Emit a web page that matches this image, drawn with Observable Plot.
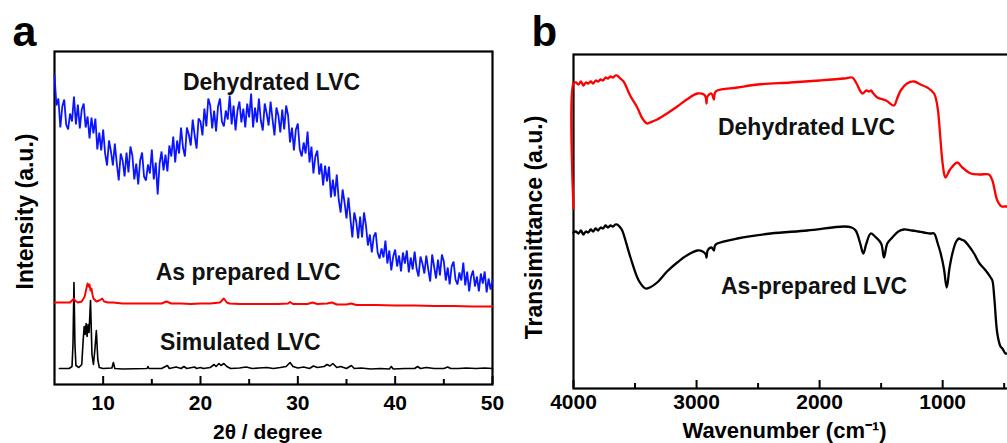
<!DOCTYPE html>
<html>
<head>
<meta charset="utf-8">
<script src="https://cdn.jsdelivr.net/npm/d3@7"></script>
<script src="https://cdn.jsdelivr.net/npm/@observablehq/plot@0.6"></script>
<style>
  html, body { margin: 0; padding: 0; background: #fff; overflow: hidden; }
  #wrap { position: relative; width: 1007px; height: 443px; overflow: hidden; }
  #pa, #pb { position: absolute; top: 0; }
  #pa { left: 0; width: 500px; z-index: 2; }
  #pb { left: 500px; width: 526px; z-index: 1; }
  svg { overflow: visible; max-width: none !important; }
</style>
</head>
<body>
<div id="wrap"><div id="pb"></div><div id="pa"></div></div>
<script>
// ---------- Panel a: XRD (2θ in degrees, intensity in a.u.) ----------
const xrdMajorTicks = [10, 20, 30, 40, 50];
const xrdMinorTicks = [15, 25, 35, 45];

const dehydrated = [
[5.0,309],[5.2,279],[5.4,286],[5.6,257],[5.8,278],[6.0,285],[6.2,260],[6.4,255],[6.6,271],[6.8,263],
[7.0,288],[7.2,260],[7.4,280],[7.6,256],[7.8,275],[8.0,281],[8.2,257],[8.4,268],[8.6,246],[8.8,267],
[9.0,251],[9.2,266],[9.4,235],[9.6,252],[9.8,234],[10.0,255],[10.2,231],[10.4,219],[10.6,244],[10.8,233],
[11.0,219],[11.2,241],[11.4,221],[11.6,204],[11.8,231],[12.0,224],[12.2,208],[12.4,232],[12.6,212],[12.8,238],
[13.0,229],[13.2,205],[13.4,221],[13.6,200],[13.8,224],[14.0,232],[14.2,208],[14.4,204],[14.6,220],[14.8,211],
[15.0,235],[15.2,205],[15.4,222],[15.6,190],[15.8,221],[16.0,233],[16.2,214],[16.4,230],[16.6,213],[16.8,239],
[17.0,228],[17.2,248],[17.4,222],[17.6,244],[17.8,231],[18.0,257],[18.2,237],[18.4,228],[18.6,257],[18.8,250],
[19.0,239],[19.2,265],[19.4,249],[19.6,236],[19.8,266],[20.0,263],[20.2,249],[20.4,276],[20.6,258],[20.8,286],
[21.0,279],[21.2,256],[21.4,274],[21.6,253],[21.8,278],[22.0,286],[22.2,263],[22.4,258],[22.6,274],[22.8,265],
[23.0,289],[23.2,260],[23.4,279],[23.6,254],[23.8,274],[24.0,283],[24.2,262],[24.4,276],[24.6,257],[24.8,281],
[25.0,267],[25.2,291],[25.4,257],[25.6,277],[25.8,262],[26.0,286],[26.2,264],[26.4,254],[26.6,281],[26.8,271],
[27.0,259],[27.2,283],[27.4,265],[27.6,249],[27.8,277],[28.0,269],[28.2,252],[28.4,275],[28.6,255],[28.8,279],
[29.0,269],[29.2,242],[29.4,257],[29.6,234],[29.8,255],[30.0,261],[30.2,235],[30.4,228],[30.6,242],[30.8,231],
[31.0,253],[31.2,222],[31.4,238],[31.6,211],[31.8,228],[32.0,234],[32.2,210],[32.4,221],[32.6,199],[32.8,219],
[33.0,203],[33.2,218],[33.4,187],[33.6,205],[33.8,188],[34.0,210],[34.2,185],[34.4,172],[34.6,195],[34.8,182],
[35.0,166],[35.2,187],[35.4,166],[35.6,147],[35.8,172],[36.0,163],[36.2,146],[36.4,168],[36.6,147],[36.8,172],
[37.0,159],[37.2,139],[37.4,150],[37.6,132],[37.8,148],[38.0,152],[38.2,132],[38.4,126],[38.6,136],[38.8,127],
[39.0,144],[39.2,121],[39.4,134],[39.6,114],[39.8,128],[40.0,135],[40.2,118],[40.4,129],[40.6,113],[40.8,132],
[41.0,121],[41.2,134],[41.4,112],[41.6,127],[41.8,115],[42.0,133],[42.2,116],[42.4,108],[42.6,128],[42.8,121],
[43.0,111],[43.2,129],[43.4,115],[43.6,103],[43.8,130],[44.0,118],[44.2,106],[44.4,125],[44.6,109],[44.8,130],
[45.0,123],[45.2,104],[45.4,117],[45.6,100],[45.8,118],[46.0,123],[46.2,105],[46.4,100],[46.6,112],[46.8,104],
[47.0,122],[47.2,99],[47.4,113],[47.6,93],[47.8,108],[48.0,114],[48.2,98],[48.4,108],[48.6,93],[48.8,111],
[49.0,101],[49.2,113],[49.4,92],[49.6,106],[49.8,95],[50.0,104]
];

const asPrepared = [
[5.0,82],[6.0,82],[6.6,82],[6.9,85],[7.0,86],[7.1,84],[7.4,82],[7.8,83],[8.1,88],[8.3,97],[8.4,101],
[8.5,98],[8.6,100],[8.7,94],[8.8,96],[8.9,90],[9.0,86],[9.3,83],[9.6,84],[9.9,86],[10.1,83],[10.5,82],
[11,82],[12,81],[13,81],[14,81],[15,81],[16,81],[16.5,83],[17,81],[18,81],[19,80.5],[20,81],[21,81],
[22,82],[22.4,86],[22.7,82],[23,81],[24,80.5],[25,80.5],[26,80.5],[27,80.5],[28,80.5],[29,81],[29.2,82.5],
[29.5,80.5],[30,80.5],[31,80.5],[31.5,82],[32,80.5],[33,81],[33.5,82],[34,80],[35,80],[35.5,81],[36,79.5],
[38,79.5],[40,79],[42,79],[44,78.5],[46,78.5],[48,78],[50,78]
];

const simulated = [
[5.5,16],[6.5,16],[6.8,18],[6.9,40],[7.0,102],[7.1,40],[7.2,19],[7.5,17],[7.8,20],[7.95,45],[8.05,58],
[8.15,50],[8.25,61],[8.35,48],[8.45,60],[8.55,52],[8.7,84],[8.85,30],[9.0,20],[9.15,35],[9.3,54],[9.45,25],
[9.6,17],[10,16],[10.9,16.5],[11.05,22],[11.2,16],[12,15.5],[14.5,16],[14.6,18],[14.7,16],[16,16],[16.6,19],
[16.8,16],[17.5,17.5],[18,16],[18.3,18],[18.6,16],[19.4,17.5],[19.6,16],[20.0,17],[20.3,16],[21,17],[21.4,20],
[21.6,18],[21.9,21],[22.1,19],[22.4,21],[22.7,18],[23.1,16],[24,16.5],[24.7,17.5],[25.3,16],[26,16.5],[26.8,17],
[27.5,16],[28.2,17],[28.8,18],[29.2,22],[29.5,18],[30,16.5],[30.6,17.5],[31.2,16],[31.6,18.5],[32,17],[32.7,18],
[33,20],[33.3,18.5],[33.6,21],[34,17],[34.4,18],[35,16],[35.5,19],[35.8,16],[36.5,16.5],[37.5,15.5],[38.5,16],
[39.4,15.5],[39.6,18],[39.8,15.5],[41,16],[42,16],[42.3,18],[42.6,16],[43.2,17],[44,16],[45,16],[45.4,17.5],
[45.7,16],[46.5,16],[47.3,16.5],[48.3,16],[49.2,16.5],[50,16]
];

const xrdLabels = [
  {text: "Dehydrated LVC", x: 27.3, y: 294.5},
  {text: "As prepared LVC", x: 24.9, y: 105},
  {text: "Simulated LVC", x: 24.1, y: 35}
];

// ---------- Panel b: FTIR (wavenumber in cm-1, transmittance in a.u.) ----------
const irMajorTicks = [4000, 3000, 2000, 1000];
const irMinorTicks = [3500, 2500, 1500, 500];

const irDehydrated = [
[4000,180],[4000,305],[3980,306],[3960,304],[3940,307],[3920,303],[3900,306],[3880,305],[3860,307],[3840,305],
[3820,308],[3800,307],[3780,309],[3760,308],[3740,311],[3720,310],[3700,312],[3680,311],[3660,313],[3645,313],
[3620,310],[3593,307],[3540,293],[3482,281],[3440,270],[3401,265],[3380,266],[3320,269],[3240,275],[3157,282],
[3080,289],[2994,295],[2940,294],[2925,291],[2919,285],[2912,292],[2880,295],[2865,291],[2859,289],[2850,296],
[2832,298],[2669,301],[2500,304],[2236,306],[2000,308],[1800,310],[1734,311],[1700,305],[1653,295],[1620,298],
[1600,297],[1580,298],[1570,296],[1531,291],[1460,288],[1396,283],[1370,290],[1341,298],[1290,305],[1233,307],
[1180,304],[1125,301],[1070,295],[1040,280],[1030,268],[1003,228],[985,213],[976,211],[940,219],[881,226],
[840,221],[772,215],[700,214],[624,214],[596,208],[556,188],[520,182],[502,182],[472,182],[400,182]
];

const irAsPrepared = [
[4000,156],[3980,157],[3960,155],[3940,158],[3920,154],[3900,157],[3880,156],[3860,159],[3840,157],[3820,160],
[3800,158],[3780,161],[3760,160],[3740,163],[3720,161],[3700,163],[3680,162],[3660,164],[3645,164],[3620,161],
[3604,158],[3537,131],[3470,108],[3415,100],[3380,101],[3320,106],[3240,117],[3157,126],[3080,133],[2994,138],
[2950,137],[2925,134],[2919,131],[2910,138],[2880,141],[2865,139],[2859,138],[2850,143],[2832,145],[2669,150],
[2398,155],[2100,158],[1802,162],[1740,161],[1707,158],[1670,145],[1645,135],[1620,145],[1585,155],[1550,152],
[1500,145],[1477,131],[1450,145],[1409,151],[1360,157],[1315,159],[1250,158],[1200,157],[1152,156],[1100,155],
[1070,155],[1040,145],[1016,135],[990,120],[967,101],[945,120],[921,135],[890,147],[867,150],[850,149],
[827,148],[790,143],[745,135],[700,125],[650,118],[610,111],[596,108],[580,90],[556,55],[530,42],
[515,40],[490,35],[474,35],[400,32]
];

const irLabels = [
  {text: "Dehydrated LVC", x: 2106, y: 254},
  {text: "As-prepared LVC", x: 2045, y: 95}
];

// ---------- shared styling ----------
const FONT = "'Liberation Sans', Arial, Helvetica, sans-serif";
const baseStyle = {fontFamily: FONT, fontSize: "21px", fontWeight: "bold", color: "#000", background: "transparent", overflow: "visible", maxWidth: "none"};

// Panel a
const aHeight = 443, aTop = 51, aBottom = 59;
const aInner = aHeight - aTop - aBottom;
const chartA = Plot.plot({
  width: 500, height: aHeight,
  marginLeft: 54, marginRight: 8, marginTop: aTop, marginBottom: aBottom,
  style: baseStyle,
  x: {domain: [5, 50], ticks: xrdMajorTicks, tickSize: 0, tickPadding: 11, label: null, tickFormat: d => String(d)},
  y: {domain: [0, 333], axis: null},
  marks: [
    Plot.frame({stroke: "#000", strokeWidth: 2.2}),
    Plot.ruleX(xrdMajorTicks, {x: d => d, insetTop: aInner - 8, stroke: "#000", strokeWidth: 2}),
    Plot.ruleX(xrdMinorTicks, {x: d => d, insetTop: aInner - 5, stroke: "#000", strokeWidth: 2}),
    Plot.line(simulated, {x: d => d[0], y: d => d[1], stroke: "#000", strokeWidth: 1.6}),
    Plot.line(asPrepared, {x: d => d[0], y: d => d[1], stroke: "#ff0000", strokeWidth: 1.9}),
    Plot.line(dehydrated, {x: d => d[0], y: d => d[1], stroke: "#0a14ff", strokeWidth: 1.8, strokeLinejoin: "miter"}),
    Plot.text(xrdLabels, {x: "x", y: "y", text: "text", fontSize: 23, fontWeight: "bold", fill: "#111", lineAnchor: "bottom"}),
    Plot.text(["2θ / degree"], {x: 26.9, frameAnchor: "bottom", dy: 54, text: d => d, fontSize: 21, fontWeight: "bold", lineAnchor: "bottom", textAnchor: "middle"}),
    Plot.text(["Intensity (a.u.)"], {y: 173, frameAnchor: "left", dx: -29, rotate: -90, text: d => d, fontSize: 23, fontWeight: "bold", textAnchor: "middle", lineAnchor: "middle"}),
    Plot.text(["a"], {frameAnchor: "top-left", dx: -42, dy: -6, text: d => d, fontSize: 43, fontWeight: "bold", textAnchor: "start", lineAnchor: "bottom"})
  ]
});
document.getElementById("pa").appendChild(chartA);

// Panel b
const bHeight = 443, bTop = 54, bBottom = 55;
const bInner = bHeight - bTop - bBottom;
const chartB = Plot.plot({
  width: 526, height: bHeight,
  marginLeft: 73, marginRight: 10, marginTop: bTop, marginBottom: bBottom,
  style: baseStyle,
  x: {domain: [4000, 400], ticks: irMajorTicks, tickSize: 0, tickPadding: 6, label: null, tickFormat: d => String(d)},
  y: {domain: [0, 334], axis: null},
  marks: [
    Plot.ruleX(irMajorTicks, {x: d => d, insetTop: bInner - 8, stroke: "#000", strokeWidth: 2}),
    Plot.ruleX(irMinorTicks, {x: d => d, insetTop: bInner - 5, stroke: "#000", strokeWidth: 2}),
    Plot.line(irAsPrepared, {x: d => d[0], y: d => d[1], stroke: "#000", strokeWidth: 2.3, curve: "catmull-rom"}),
    Plot.frame({stroke: "#000", strokeWidth: 2.2}),
    Plot.line(irDehydrated, {x: d => d[0], y: d => d[1], stroke: "#ff0000", strokeWidth: 2.3, curve: "catmull-rom"}),
    Plot.text(irLabels, {x: "x", y: "y", text: "text", fontSize: 23, fontWeight: "bold", fill: "#111", lineAnchor: "bottom"}),
    Plot.text(["Wavenumber (cm⁻¹)"], {x: 2285, frameAnchor: "bottom", dy: 49, text: d => d, fontSize: 22, fontWeight: "bold", lineAnchor: "bottom", textAnchor: "middle"}),
    Plot.text(["Transimittance (a.u.)"], {y: 161, frameAnchor: "left", dx: -39, rotate: -90, text: d => d, fontSize: 23, fontWeight: "bold", textAnchor: "middle", lineAnchor: "middle"}),
    Plot.text(["b"], {frameAnchor: "top-left", dx: -42, dy: -9, text: d => d, fontSize: 42, fontWeight: "bold", textAnchor: "start", lineAnchor: "bottom"})
  ]
});
document.getElementById("pb").appendChild(chartB);
</script>
</body>
</html>
